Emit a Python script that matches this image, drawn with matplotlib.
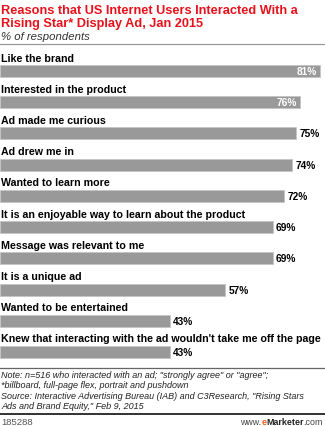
import numpy as np
import matplotlib
matplotlib.use('Agg')
import matplotlib.pyplot as plt

# data
labels = ['Like the brand', 'Interested in the product', 'Ad made me curious',
          'Ad drew me in', 'Wanted to learn more',
          'It is an enjoyable way to learn about the product',
          'Message was relevant to me', 'It is a unique ad',
          'Wanted to be entertained',
          "Knew that interacting with the ad wouldn't take me off the page"]
values = [81, 76, 75, 74, 72, 69, 69, 57, 43, 43]

title = 'Reasons that US Internet Users Interacted With a\nRising Star* Display Ad, Jan 2015'
subtitle = '% of respondents'
notes = ['Note: n=516 who interacted with an ad; "strongly agree" or "agree";',
         '*billboard, full-page flex, portrait and pushdown',
         'Source: Interactive Advertising Bureau (IAB) and C3Research, "Rising Stars',
         'Ads and Brand Equity," Feb 9, 2015']
chart_id = '185288'

W, H = 325, 427
fig = plt.figure(figsize=(W / 100, H / 100), dpi=100)
plt.rcParams['font.family'] = ['Liberation Sans', 'DejaVu Sans']

def fy(y):
    return 1 - y / H

def fx(x):
    return x / W

# bar area: from px 50 to 365
top_px, bot_px = 50, 365
pitch = 31.2
ax = fig.add_axes([0, fy(bot_px), 1, (bot_px - top_px) / H])
pos = np.arange(len(values))
bh = 12 / pitch
ax.barh(pos, values, height=bh, color='#999999', edgecolor='#c4c4c4', linewidth=0.6)
ax.set_xlim(0, W / 3.95)
ax.set_ylim(9 + (bot_px - 353) / pitch, -(72 - top_px) / pitch)
ax.axis('off')

for i, (lab, v) in enumerate(zip(labels, values)):
    ax.text(0.3, i - bh / 2 - 2.5 / pitch, lab, ha='left', va='bottom',
            fontsize=7.7, fontweight='bold', color='black')
    if v >= 76:
        ax.text(v - 0.9, i, '%d%%' % v, ha='right', va='center',
                fontsize=7.3, fontweight='bold', color='white')
    else:
        ax.text(v + 0.8, i, '%d%%' % v, ha='left', va='center',
                fontsize=7.3, fontweight='bold', color='black')

# header
fig.text(fx(1), fy(4.5), title, ha='left', va='top', fontsize=9.2,
         fontweight='bold', color='#e8111b', linespacing=1.2)
fig.text(fx(1), fy(31.5), subtitle, ha='left', va='top', fontsize=8.2,
         style='italic', color='#333333')
fig.add_artist(plt.Line2D([0, 1], [fy(45), fy(45)], color='#999999', lw=0.9))

# footer
fig.add_artist(plt.Line2D([0, 1], [fy(369), fy(369)], color='#666666', lw=0.9))
for k, line in enumerate(notes):
    fig.text(fx(1), fy(371 + k * 10.5), line, ha='left', va='top', fontsize=6.5,
             style='italic', color='#222222')
fig.add_artist(plt.Line2D([0, 1], [fy(415), fy(415)], color='#222222', lw=1.3))
fig.text(fx(1), fy(418), chart_id, ha='left', va='top', fontsize=6.8, color='#555555')

# www.eMarketer.com built from the right
fig.canvas.draw()
r = fig.canvas.get_renderer()
x_right = 323
parts = [('.com', '#444444', 'normal'), ('Marketer', '#222222', 'bold'),
         ('e', '#ef5a1a', 'bold'), ('www.', '#444444', 'normal')]
for txt, col, wt in parts:
    t = fig.text(fx(x_right), fy(418), txt, ha='right', va='top', fontsize=6.4,
                 color=col, fontweight=wt)
    bb = t.get_window_extent(renderer=r)
    x_right -= bb.width

fig.savefig('out.png', dpi=100)
